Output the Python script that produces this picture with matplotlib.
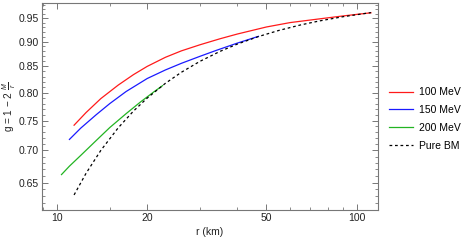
import matplotlib
matplotlib.use("Agg")
import matplotlib.pyplot as plt
from matplotlib.ticker import NullFormatter

plt.rcParams['font.family'] = ['Liberation Sans', 'DejaVu Sans']
plt.rcParams['mathtext.fontset'] = 'custom'
plt.rcParams['mathtext.rm'] = 'Liberation Sans'
plt.rcParams['mathtext.it'] = 'Liberation Sans:italic'

# values (r in km, g dimensionless)
r_100 = [11.4, 12.5, 14, 16, 18, 20, 23, 26, 30, 35, 40, 50, 60, 75, 90, 111.6]
g_100 = [0.742, 0.764, 0.789, 0.814, 0.834, 0.850, 0.868, 0.881, 0.8935, 0.906,
         0.916, 0.931, 0.9405, 0.9485, 0.955, 0.962]

r_150 = [11.0, 12, 13.5, 15, 17, 20, 23, 26, 30, 34, 40, 47]
g_150 = [0.718, 0.737, 0.760, 0.780, 0.802, 0.8265, 0.843, 0.856, 0.870, 0.882,
         0.897, 0.911]

r_200 = [10.35, 11, 12, 13.5, 15, 17, 19, 21, 22.5]
g_200 = [0.662, 0.675, 0.692, 0.716, 0.738, 0.762, 0.783, 0.801, 0.813]

r_bm = [11.4, 12.5, 14, 16, 18, 20, 23, 26, 30, 35, 40, 47, 55, 65, 75, 90, 111.6]
g_bm = [0.6316, 0.664, 0.700, 0.7375, 0.7667, 0.790, 0.8174, 0.8385, 0.860, 0.880,
        0.895, 0.9106, 0.9236, 0.9354, 0.944, 0.9533, 0.9624]

x_major = [10, 20, 50, 100]
x_minor = [9, 15, 30, 40, 60, 70, 80, 90]
y_major = [0.65, 0.70, 0.75, 0.80, 0.85, 0.90, 0.95]
y_minor = [0.61, 0.62, 0.63, 0.64, 0.66, 0.67, 0.68, 0.69, 0.71, 0.72, 0.73, 0.74,
           0.76, 0.77, 0.78, 0.79, 0.81, 0.82, 0.83, 0.84, 0.86, 0.87, 0.88, 0.89,
           0.91, 0.92, 0.93, 0.94, 0.96, 0.97, 0.98]

fig = plt.figure(figsize=(4.64, 2.40), dpi=100)
ax = fig.add_axes([42/464, 30/240, 336/464, 207/240])

ax.plot(r_100, g_100, color='#ff1a1a', lw=0.9, label='100 MeV')
ax.plot(r_150, g_150, color='#1a1aff', lw=0.9, label='150 MeV')
ax.plot(r_200, g_200, color='#22b422', lw=0.9, label='200 MeV')
ax.plot(r_bm, g_bm, color='black', lw=0.9, dashes=(2.2, 2.2), label='Pure BM')

ax.set_xscale('log')
ax.set_yscale('log')
ax.set_xlim(8.91, 117.8)
ax.set_ylim(0.611, 0.984)

ax.set_xticks(x_major)
ax.set_xticklabels([str(v) for v in x_major])
ax.set_xticks(x_minor, minor=True)
ax.xaxis.set_minor_formatter(NullFormatter())
ax.set_yticks(y_major)
ax.set_yticklabels(['%.2f' % v for v in y_major])
ax.set_yticks(y_minor, minor=True)
ax.yaxis.set_minor_formatter(NullFormatter())

for s in ax.spines.values():
    s.set_color('#777777')
    s.set_linewidth(0.8)
ax.tick_params(which='both', direction='in', top=True, right=True,
               color='#777777', labelsize=7.5, labelcolor='#222222', pad=2)
ax.tick_params(which='major', length=4, width=0.7)
ax.tick_params(which='minor', length=2, width=0.6)

ax.set_xlabel('r (km)', fontsize=7.5, color='#222222', labelpad=3)
ax.set_ylabel(r'g = 1 $-$ 2 $\frac{M}{r}$', fontsize=7.2, color='#222222')
ax.yaxis.set_label_coords(-0.071, 0.5)

fig.legend(loc='center left', bbox_to_anchor=(385/464, 1 - 119/240),
           frameon=False, fontsize=7.5, handlelength=2.3, handletextpad=0.6,
           labelspacing=0.75, borderaxespad=0)

fig.savefig('out.png', dpi=100)
